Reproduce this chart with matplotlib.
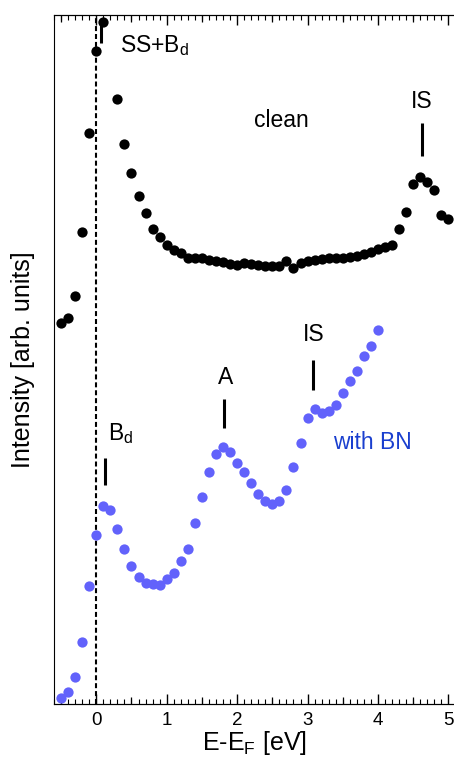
#!/usr/bin/env python3
# -*- coding: utf-8 -*-
"""
Photoemission spectra: clean surface vs. with BN
"""

import matplotlib
matplotlib.use('Agg')
import matplotlib.pyplot as plt
from matplotlib.ticker import MultipleLocator, NullLocator, NullFormatter

plt.rcParams['font.family'] = ['Liberation Sans', 'DejaVu Sans']

# clean surface (0.2 eV point lies above the frame)
clean_e = [-0.5, -0.4, -0.3, -0.2, -0.1, 0.0, 0.1, 0.3, 0.4, 0.5, 0.6, 0.7, 0.8, 0.9,
           1.0, 1.1, 1.2, 1.3, 1.4, 1.5, 1.6, 1.7, 1.8, 1.9, 2.0, 2.1, 2.2, 2.3, 2.4,
           2.5, 2.6, 2.7, 2.8, 2.9, 3.0, 3.1, 3.2, 3.3, 3.4, 3.5, 3.6, 3.7, 3.8, 3.9,
           4.0, 4.1, 4.2, 4.3, 4.4, 4.5, 4.6, 4.7, 4.8, 4.9, 5.0]
clean_i = [55.3, 56.0, 59.2, 68.5, 82.9, 94.8, 99.0, 87.8, 81.3, 77.1, 73.8, 71.3, 68.9, 67.8,
           66.6, 65.9, 65.4, 64.8, 64.8, 64.7, 64.4, 64.3, 64.2, 63.9, 63.7, 64.0, 63.8, 63.7, 63.6,
           63.6, 63.6, 64.3, 63.3, 64.0, 64.3, 64.4, 64.6, 64.7, 64.7, 64.8, 64.9, 65.0, 65.3, 65.6,
           66.0, 66.3, 66.6, 68.9, 71.4, 75.4, 76.5, 75.7, 74.6, 71.0, 70.4]

# with BN
bn_e = [-0.5, -0.4, -0.3, -0.2, -0.1, 0.0, 0.1, 0.2, 0.3, 0.4, 0.5, 0.6, 0.7, 0.8, 0.9,
        1.0, 1.1, 1.2, 1.3, 1.4, 1.5, 1.6, 1.7, 1.8, 1.9, 2.0, 2.1, 2.2, 2.3, 2.4,
        2.5, 2.6, 2.7, 2.8, 2.9, 3.0, 3.1, 3.2, 3.3, 3.4, 3.5, 3.6, 3.7, 3.8, 3.9, 4.0]
bn_i = [0.9, 1.7, 3.9, 9.0, 17.1, 24.6, 28.7, 28.2, 25.4, 22.5, 20.0, 18.4, 17.6, 17.4, 17.3,
        18.1, 19.0, 20.7, 22.5, 26.3, 30.0, 33.7, 36.3, 37.3, 36.6, 35.0, 33.6, 32.1, 30.5, 29.4,
        29.0, 29.4, 31.1, 34.4, 37.9, 41.5, 42.8, 42.3, 42.5, 43.4, 45.2, 46.9, 48.3, 50.5, 52.0, 54.3]

# feature markers: (energy, bar bottom, bar top)
clean_marks = [(0.07, 95.9, 99.2), (4.62, 79.5, 84.3)]
bn_marks = [(0.12, 31.8, 35.7), (1.81, 40.0, 44.2), (3.08, 45.6, 50.0)]

half_ticks = [-0.5, 0.5, 1.5, 2.5, 3.5, 4.5]

fig = plt.figure(figsize=(4.54, 7.63), dpi=100)
ax = fig.add_axes([54 / 454, 59 / 763, 401.5 / 454, 689 / 763])

ax.axvline(0, color='black', lw=1.5, ls=(0, (2.4, 1.4)), zorder=1)
ax.plot(clean_e, clean_i, 'o', color='black', ms=7.4, mew=0, zorder=3)
ax.plot(bn_e, bn_i, 'o', color='#6262fb', ms=7.4, mew=0, zorder=3)

for e, lo, hi in clean_marks + bn_marks:
    ax.plot([e, e], [lo, hi], color='black', lw=2.2, solid_capstyle='butt', zorder=2)

fs = 16.5
ax.text(0.34, 95.6, 'SS+B$_\\mathregular{d}$', fontsize=fs, va='center', ha='left')
ax.text(2.24, 84.7, 'clean', fontsize=fs, va='center', ha='left')
ax.text(4.62, 87.5, 'IS', fontsize=fs, va='center', ha='center')
ax.text(0.17, 39.3, 'B$_\\mathregular{d}$', fontsize=fs, va='center', ha='left')
ax.text(1.84, 47.4, 'A', fontsize=fs, va='center', ha='center')
ax.text(3.09, 53.7, 'IS', fontsize=fs, va='center', ha='center')
ax.text(3.36, 37.9, 'with BN', fontsize=fs, va='center', ha='left', color='#1a3fcf')

ax.set_xlim(-0.6, 5.1)
ax.set_ylim(0, 100)
ax.xaxis.set_major_locator(MultipleLocator(1))
ax.xaxis.set_minor_locator(MultipleLocator(0.1))
ax.yaxis.set_major_locator(NullLocator())
ax.tick_params(axis='x', which='both', direction='in', top=True, labelsize=13.5, pad=6)
ax.tick_params(axis='x', which='major', length=7, width=1)
ax.tick_params(axis='x', which='minor', length=3.5, width=0.8)
ax.set_xlabel('E-E$_\\mathregular{F}$ [eV]', fontsize=18, labelpad=0)
ax.set_ylabel('Intensity [arb. units]', fontsize=18, labelpad=14)

# medium-length ticks at the half-eV positions
for side in ('bottom', 'top'):
    sec = ax.secondary_xaxis(side)
    sec.set_xticks(half_ticks)
    sec.xaxis.set_minor_locator(NullLocator())
    sec.xaxis.set_major_formatter(NullFormatter())
    sec.tick_params(direction='in', length=5, width=0.9)

fig.savefig('out.png', dpi=100)
